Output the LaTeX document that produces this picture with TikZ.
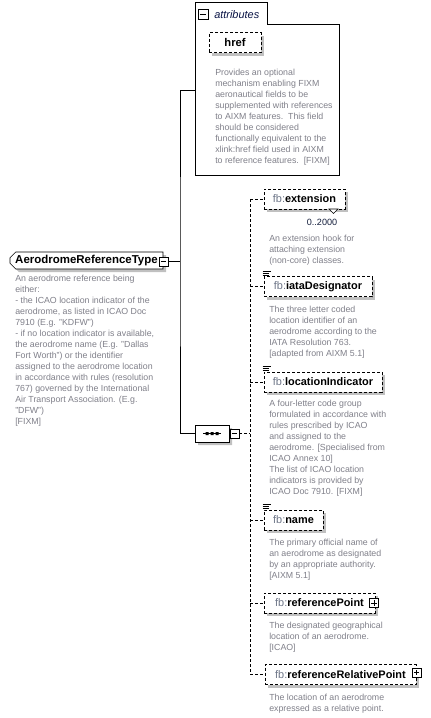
\documentclass[tikz,border=0pt]{standalone}
\usepackage{fontspec}
\setmainfont{Liberation Sans}
\usetikzlibrary{shapes.misc,shadows}
\definecolor{desc}{RGB}{128,128,138}
\definecolor{pfx}{RGB}{110,118,136}
\definecolor{shade}{RGB}{192,192,192}
\newcommand\eqicon[1]{\draw[line width=0.7pt] ([shift={(-1,-5)}]#1.north west) -- +(8,0) ([shift={(-1,-3)}]#1.north west) -- +(6,0) ([shift={(-1,-1)}]#1.north west) -- +(6,0);}
\tikzset{
  desctext/.style={anchor=north west, inner sep=0pt, align=left, text=desc, font=\fontsize{6.6}{8.25}\selectfont},
  dsh/.style={dash pattern=on 2.25pt off 1.5pt},
  shd/.style={drop shadow={shadow xshift=2.4pt, shadow yshift=-2.4pt, fill=shade, opacity=1}},
  elem/.style={draw, dsh, fill=white, shd, minimum height=15pt, minimum width=#1*0.75pt, inner xsep=0pt, inner ysep=0pt, font=\fontsize{8.2}{10}\selectfont},
  pmbox/.style={draw, fill=white, minimum size=6.75pt, inner sep=0pt},
  minus/.style={pmbox, path picture={\draw ([xshift=1.4pt]path picture bounding box.west) -- ([xshift=-1.4pt]path picture bounding box.east);}},
  plus/.style={pmbox, path picture={\draw ([xshift=1.4pt]path picture bounding box.west) -- ([xshift=-1.4pt]path picture bounding box.east); \draw ([yshift=-1.4pt]path picture bounding box.north) -- ([yshift=1.4pt]path picture bounding box.south);}},
}
\newcommand\pf{\textcolor{pfx}{fb:}}
\begin{document}
\begin{tikzpicture}[x=0.75pt,y=-0.75pt]
\useasboundingbox[fill=white] (0,0) rectangle (430,718);

% attributes group
\draw (195,2) -- (267,2) -- (267,24) -- (339,24) -- (339,175) -- (195,175) -- cycle;
\node[minus, minimum size=7.5pt] (attrm) at (203,14) {};
\node[anchor=west, inner sep=0pt, font=\fontsize{8.2}{10}\selectfont\itshape, text={rgb,255:red,10;green,20;blue,70}] (attrlbl) at (214,15) {attributes};
\coordinate (attrin) at (195,90);

\node[elem=52, font=\fontsize{8.4}{10}\selectfont\bfseries] (href) at (235,42.5) {href};
\node[desctext] (hrefd) at (215,68.5) {Provides an optional\\mechanism enabling FIXM\\aeronautical fields to be\\supplemented with references\\to AIXM features.\ \ This field\\should be considered\\functionally equivalent to the\\xlink:href field used in AIXM\\to reference features.\ \ {[}FIXM]};

% type node
\node[chamfered rectangle, chamfered rectangle corners={north west,south west}, chamfered rectangle xsep=2.2pt, chamfered rectangle ysep=2.2pt, draw, fill=white, shd, minimum width=153*0.75pt, minimum height=17*0.75pt, inner sep=0pt, font=\fontsize{8.6}{10}\selectfont\bfseries] (type) at (86.5,260.5) {AerodromeReferenceType};
\node[minus] (typem) at (163.5,261.5) {};
\node[desctext] (typed) at (15,274.5) {An aerodrome reference being\\either:\\- the ICAO location indicator of the\\aerodrome, as listed in ICAO Doc\\7910 (E.g. "KDFW")\\- if no location indicator is available,\\the aerodrome name (E.g. "Dallas\\Fort Worth") or the identifier\\assigned to the aerodrome location\\in accordance with rules (resolution\\767) governed by the International\\Air Transport Association. (E.g.\\"DFW")\\{[}FIXM]};

% sequence
\node[chamfered rectangle, chamfered rectangle xsep=4.5pt, chamfered rectangle ysep=3.6pt, draw, fill=white, shd, minimum width=34*0.75pt, minimum height=17*0.75pt, inner sep=0pt] (seq) at (212,433.5) {};
\draw (203,433.5) -- (221,433.5);
\fill (205.5,432) rectangle (208.5,435) (210.5,432) rectangle (213.5,435) (215.5,432) rectangle (218.5,435);
\node[minus] (seqm) at (234.5,433.5) {};

% main connectors
\coordinate (j) at (180,261.5);
\draw (typem.east) -- (j);
\draw (attrin) -| (j) |- (seq.west);
\coordinate (sp) at (250,433.5);
\draw[dsh] (seqm.east) -- (sp);

% elements
\node[elem=81] (ext) at (304.5,199) {\pf\textbf{extension}};
\draw[fill=white] (329,209) -- (338,209) -- (333.5,213.5) -- cycle;
\node[font=\fontsize{6.8}{8}\selectfont, text={rgb,255:red,20;green,30;blue,60}] (extcard) at (322,222.5) {0..2000};
\node[desctext] (extd) at (269,234.5) {An extension hook for\\attaching extension\\(non-core) classes.};

\node[elem=108] (iata) at (318,286.5) {\pf\textbf{iataDesignator}};
\eqicon{iata}
\node[desctext] (iatad) at (269,305.5) {The three letter coded\\location identifier of an\\aerodrome according to the\\IATA Resolution 763.\\{[}adapted from AIXM 5.1]};

\node[elem=118] (loc) at (323,382) {\pf\textbf{locationIndicator}};
\eqicon{loc}
\node[desctext] (locd) at (269,399.5) {A four-letter code group\\formulated in accordance with\\rules prescribed by ICAO\\and assigned to the\\aerodrome. [Specialised from\\ICAO Annex 10]\\The list of ICAO location\\indicators is provided by\\ICAO Doc 7910. [FIXM]};

\node[elem=59] (name) at (293.5,520) {\pf\textbf{name}};
\eqicon{name}
\node[desctext] (named) at (269,538.5) {The primary official name of\\an aerodrome as designated\\by an appropriate authority.\\{[}AIXM 5.1]};

\node[elem=111] (refp) at (319.5,603) {\pf\textbf{referencePoint}\hspace{6pt}};
\node[plus] (refpp) at (374,603) {};
\node[desctext] (refpd) at (269,621.5) {The designated geographical\\location of an aerodrome.\\{[}ICAO]};

\node[elem=151] (refr) at (340.5,674.5) {\pf\textbf{referenceRelativePoint}\hspace{6pt}};
\node[plus] (refrp) at (416.5,672.5) {};
\node[desctext] (refrd) at (269,693.5) {The location of an aerodrome\\expressed as a relative point.};

% dashed branches
\draw[dsh] (ext.west -| sp) -- (refr.west -| sp);
\foreach \n in {ext,iata,loc,name,refp,refr}{
  \draw[dsh] (\n.west -| sp) -- (\n.west);
}
\end{tikzpicture}
\end{document}
